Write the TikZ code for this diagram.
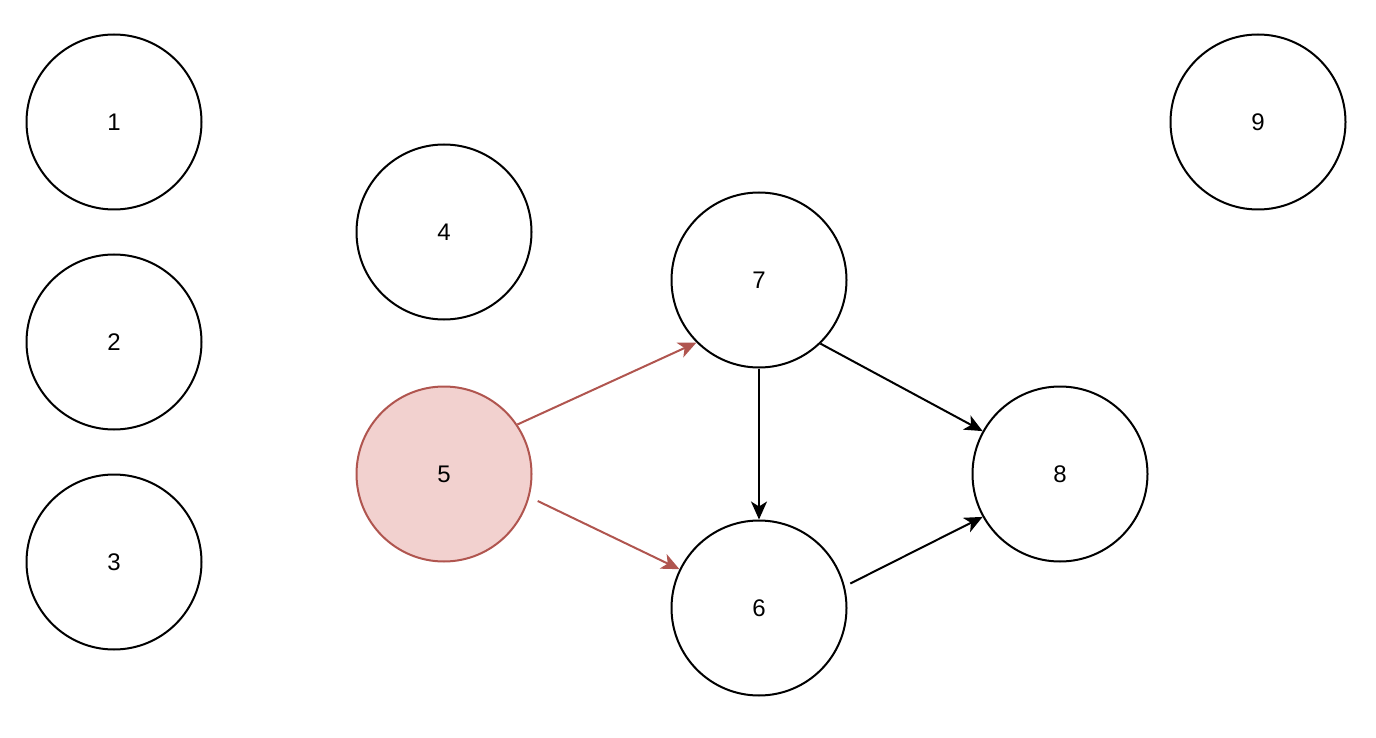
\documentclass[tikz,border=0pt]{standalone}
\usepackage{fontspec}
\setmainfont{Liberation Sans}
\usetikzlibrary{arrows.meta}
\definecolor{redfill}{HTML}{F2D1CF}
\definecolor{redline}{HTML}{B0554F}
\tikzset{
  vert/.style={circle, draw=black, line width=2pt, minimum size=175pt, inner sep=0pt, font=\fontsize{24}{27}\selectfont},
  hot/.style={vert, fill=redfill, draw=redline},
  edge/.style={line width=2pt, -{Stealth[length=18pt, width=16pt, inset=5pt]}},
  hotedge/.style={edge, draw=redline, color=redline}
}
\begin{document}
\begin{tikzpicture}[x=1pt, y=-1pt]
\useasboundingbox (0,0) rectangle (1376,738);
\node[vert] (n1) at (114,122) {1};
\node[vert] (n2) at (114,342) {2};
\node[vert] (n3) at (114,562) {3};
\node[vert] (n4) at (444,232) {4};
\node[hot]  (n5) at (444,474) {5};
\node[vert] (n7) at (759,280) {7};
\node[vert] (n6) at (759,608) {6};
\node[vert] (n8) at (1060,474) {8};
\node[vert] (n9) at (1258,122) {9};
\draw[hotedge] (n5.34) -- (n7.225);
\draw[hotedge] ([shift={(16.8:9)}]n5.-16.8) -- (n6.154);
\draw[edge] (n7.270) -- (n6.90);
\draw[edge] (n7.-46) -- (n8.151);
\draw[edge] ([shift={(-15:6)}]n6.15) -- (n8.209);
\end{tikzpicture}
\end{document}
